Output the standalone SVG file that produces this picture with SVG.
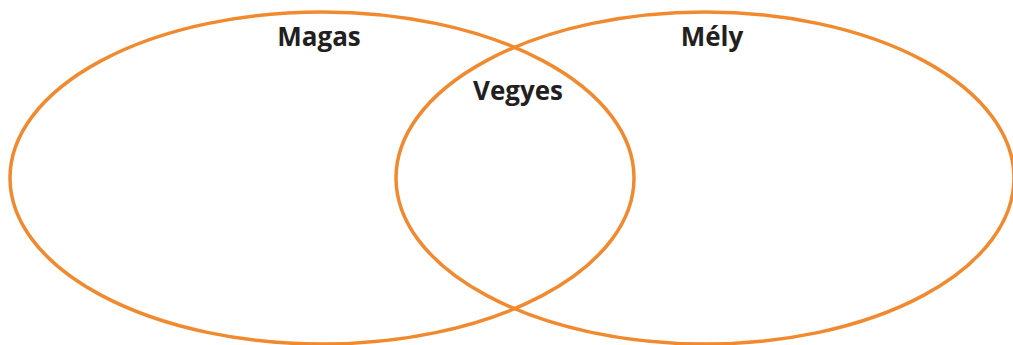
<svg xmlns="http://www.w3.org/2000/svg" width="1013" height="345" viewBox="0 0 1013 345">
<style>
.set{fill:none;stroke:#F18A2F;stroke-width:3.5}
.lbl{font-family:"Open Sans","Liberation Sans",sans-serif;font-weight:bold;font-size:26px;fill:#231F20;text-anchor:middle}
</style>
<rect width="1013" height="345" fill="#fff"/>
<g id="magas">
<ellipse class="set" cx="322" cy="178" rx="312" ry="166"/>
<text class="lbl" x="319" y="46">Magas</text>
</g>
<g id="mely">
<ellipse class="set" cx="705" cy="178" rx="309" ry="166"/>
<text class="lbl" x="712" y="46">Mély</text>
</g>
<g id="vegyes">
<text class="lbl" x="518" y="100">Vegyes</text>
</g>
<g id="connectors"/>
</svg>
